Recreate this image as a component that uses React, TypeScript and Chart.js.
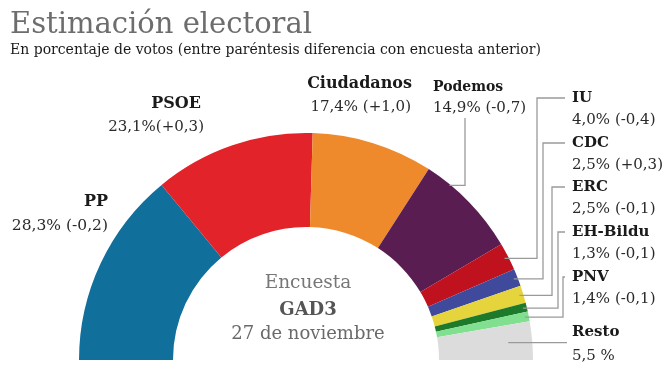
import React, { useEffect, useRef } from "react";
import { Chart, registerables } from "chart.js";

Chart.register(...registerables);

const parties = ["PP", "PSOE", "Ciudadanos", "Podemos", "IU", "CDC", "ERC", "EH-Bildu", "PNV", "Resto"];
const votes = [28.3, 23.1, 17.4, 14.9, 4.0, 2.5, 2.5, 1.3, 1.4, 5.5];
const valueLabels = [
  "28,3% (-0,2)",
  "23,1%(+0,3)",
  "17,4% (+1,0)",
  "14,9% (-0,7)",
  "4,0% (-0,4)",
  "2,5% (+0,3)",
  "2,5% (-0,1)",
  "1,3% (-0,1)",
  "1,4% (-0,1)",
  "5,5 %",
];
const colors = [
  "#11709b",
  "#e2232a",
  "#ef8a2c",
  "#5a1d52",
  "#c0121e",
  "#3f4a9c",
  "#e6d43c",
  "#1d7a2b",
  "#80e08f",
  "#dcdcdc",
];

const titleText = "Estimación electoral";
const subtitleText = "En porcentaje de votos (entre paréntesis diferencia con encuesta anterior)";
const centerLines = ["Encuesta", "GAD3", "27 de noviembre"];

const FONT = "'DejaVu Serif', serif";

type Lay = {
  x: number;
  align: CanvasTextAlign;
  nameY: number;
  valY: number;
  nameSize: number;
  valSize: number;
  valX?: number;
};

const layout: Lay[] = [
  { x: 108, align: "right", nameY: 202, valY: 226, nameSize: 16, valSize: 15.5 },
  { x: 201, align: "right", nameY: 104, valY: 127, nameSize: 16, valSize: 15, valX: 204 },
  { x: 412, align: "right", nameY: 84, valY: 107, nameSize: 16, valSize: 15, valX: 411 },
  { x: 433, align: "left", nameY: 87, valY: 108, nameSize: 14, valSize: 15 },
  { x: 572, align: "left", nameY: 98, valY: 120, nameSize: 15, valSize: 15 },
  { x: 572, align: "left", nameY: 143, valY: 165, nameSize: 15, valSize: 15 },
  { x: 572, align: "left", nameY: 187, valY: 209, nameSize: 15, valSize: 15 },
  { x: 572, align: "left", nameY: 232, valY: 254, nameSize: 15, valSize: 15 },
  { x: 572, align: "left", nameY: 277, valY: 299, nameSize: 15, valSize: 15 },
  { x: 572, align: "left", nameY: 332, valY: 356, nameSize: 15, valSize: 15 },
];

// leader lines: index, anchor fraction, radial inset, elbow x, label y
const leaders = [
  { i: 3, frac: 0.25, inset: 1, kind: "up", ex: 465, ly: 118 },
  { i: 4, frac: 0.5, inset: 4, kind: "elbow", ex: 537, ly: 98 },
  { i: 5, frac: 0.5, inset: 4, kind: "elbow", ex: 543, ly: 143 },
  { i: 6, frac: 0.5, inset: 4, kind: "elbow", ex: 552, ly: 187 },
  { i: 7, frac: 0.5, inset: 4, kind: "elbow", ex: 558, ly: 232 },
  { i: 8, frac: 0.5, inset: 4, kind: "elbow", ex: 563, ly: 277 },
  { i: 9, frac: 0.5, inset: 24, kind: "flat", ex: 567, ly: 0 },
];

const overlayPlugin = {
  id: "overlay",
  afterDraw(chart: any) {
    const ctx: CanvasRenderingContext2D = chart.ctx;
    ctx.save();
    // title
    ctx.textBaseline = "alphabetic";
    ctx.textAlign = "left";
    ctx.fillStyle = "#6d6d6d";
    ctx.font = `29px ${FONT}`;
    ctx.fillText(titleText, 10, 33);
    ctx.fillStyle = "#1a1a1a";
    ctx.font = `14px ${FONT}`;
    ctx.fillText(subtitleText, 10, 54);

    // leader lines
    const arcs = chart.getDatasetMeta(0).data;
    ctx.strokeStyle = "#9a9a9a";
    ctx.lineWidth = 1.3;
    leaders.forEach((l) => {
      const a = arcs[l.i].getProps(["x", "y", "startAngle", "endAngle", "outerRadius"], true);
      const ang = a.startAngle + (a.endAngle - a.startAngle) * l.frac;
      const r = a.outerRadius - l.inset;
      const px = a.x + r * Math.cos(ang);
      const py = a.y + r * Math.sin(ang);
      ctx.beginPath();
      ctx.moveTo(px, py);
      ctx.lineTo(l.ex, py);
      if (l.kind === "up") {
        ctx.lineTo(l.ex, l.ly);
      } else if (l.kind === "elbow") {
        ctx.lineTo(l.ex, l.ly);
        ctx.lineTo(565, l.ly);
      }
      ctx.stroke();
    });

    // labels
    ctx.textBaseline = "middle";
    parties.forEach((p, i) => {
      const L = layout[i];
      ctx.textAlign = L.align;
      ctx.fillStyle = "#1a1a1a";
      ctx.font = `bold ${L.nameSize}px ${FONT}`;
      ctx.fillText(p, L.x, L.nameY);
      ctx.fillStyle = "#2a2a2a";
      ctx.font = `${L.valSize}px ${FONT}`;
      ctx.fillText(valueLabels[i], L.valX ?? L.x, L.valY);
    });

    // center text
    const a0 = arcs[0].getProps(["x", "y"], true);
    ctx.textAlign = "center";
    ctx.fillStyle = "#777777";
    ctx.font = `18.5px ${FONT}`;
    ctx.fillText(centerLines[0], a0.x + 2, 283);
    ctx.fillStyle = "#555555";
    ctx.font = `bold 18px ${FONT}`;
    ctx.fillText(centerLines[1], a0.x + 2, 310);
    ctx.fillStyle = "#6a6a6a";
    ctx.font = `18px ${FONT}`;
    ctx.fillText(centerLines[2], a0.x + 2, 334);
    ctx.restore();
  },
};

export default function App() {
  const ref = useRef<HTMLCanvasElement | null>(null);
  useEffect(() => {
    if (!ref.current) return;
    const chart = new Chart(ref.current, {
      type: "doughnut",
      data: {
        labels: parties,
        datasets: [
          {
            data: votes,
            backgroundColor: colors,
            borderWidth: 0,
            hoverOffset: 0,
          },
        ],
      },
      options: {
        responsive: false,
        animation: false,
        rotation: -90,
        circumference: 180,
        cutout: "58.6%",
        layout: { padding: { left: 79, right: 137, top: 133, bottom: 17 } },
        plugins: {
          legend: { display: false },
          tooltip: { enabled: false },
        },
      },
      plugins: [overlayPlugin],
    });
    return () => chart.destroy();
  }, []);
  return (
    <div style={{ position: "absolute", left: 0, top: 0, width: 670, height: 377, background: "#fff" }}>
      <canvas ref={ref} width={670} height={377} style={{ display: "block" }} />
    </div>
  );
}
